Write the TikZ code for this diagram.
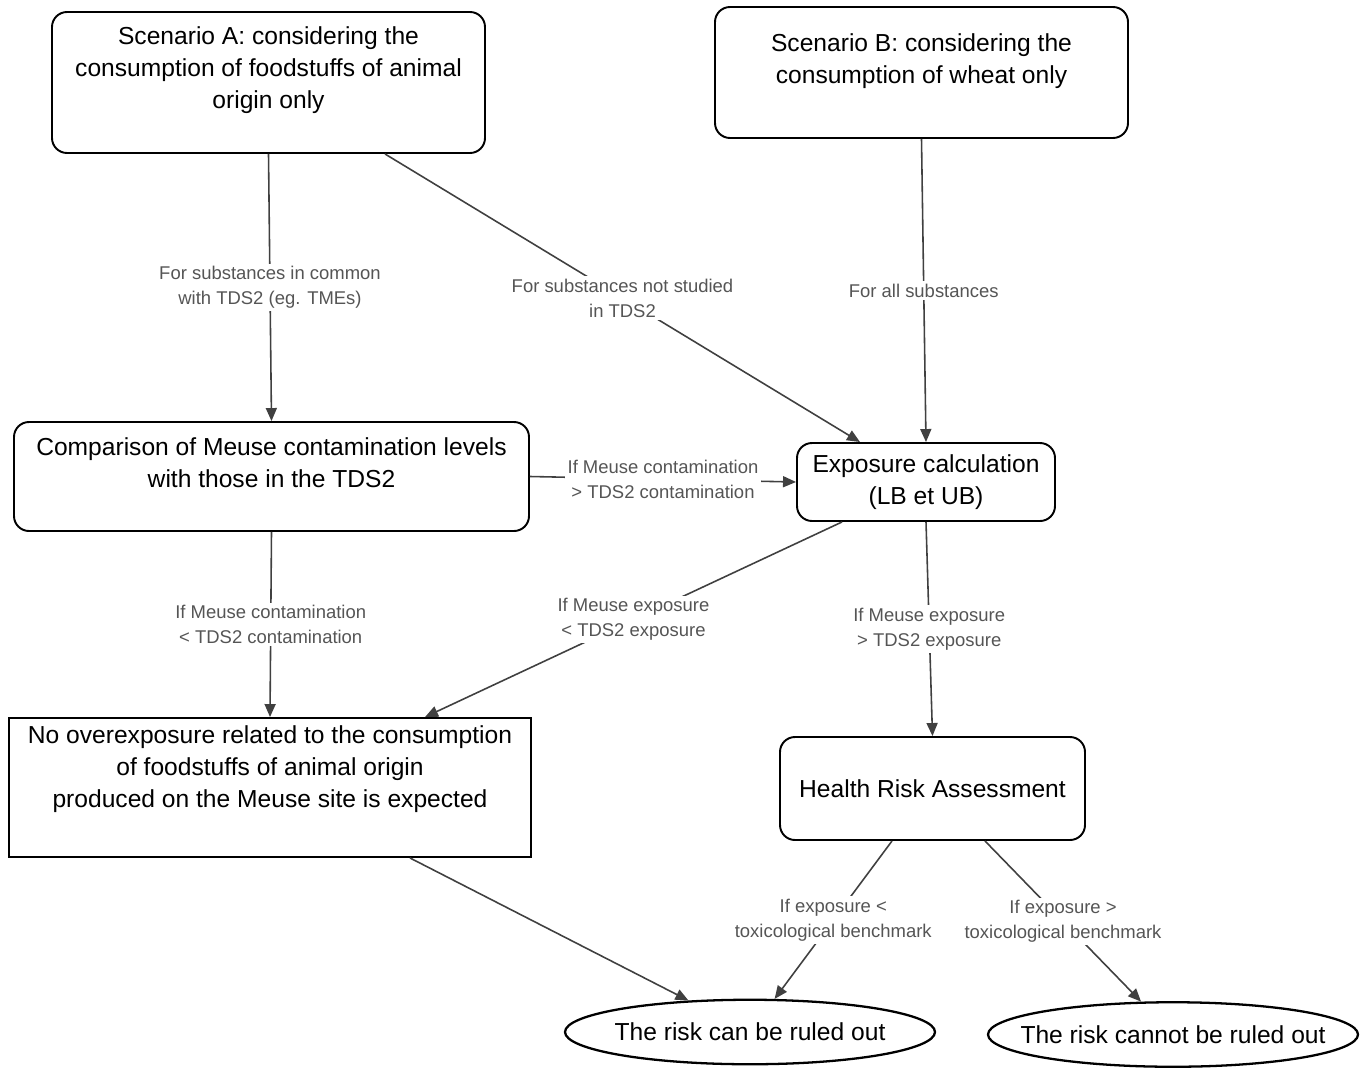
\documentclass[tikz,border=0pt]{standalone}
\usepackage{fontspec}
\setmainfont{Liberation Sans}
\usepackage{xcolor}
\usepackage{tikz}
\usetikzlibrary{arrows.meta,shapes.geometric}
\definecolor{edgegray}{RGB}{64,64,64}
\definecolor{labelgray}{RGB}{85,85,85}
\newcommand{\boxfont}{\fontsize{14}{18}\selectfont}

\begin{document}
\begin{tikzpicture}[
      rbox/.style={draw, line width=1.1pt, rounded corners=0.3cm, inner sep=0pt, align=center, font=\boxfont},
      sbox/.style={draw, line width=1.1pt, inner sep=0pt, align=center, font=\boxfont},
      outcome/.style={ellipse, draw, line width=1.3pt, inner sep=0pt, minimum width=7.4cm, minimum height=1.29cm, font=\boxfont},
      lbl/.style={fill=white, inner sep=1.5pt, align=center, text=labelgray, font=\fontsize{10.5}{14.2}\selectfont},
      arr/.style={-{Triangle[length=2.6mm, width=2.2mm]}, line width=0.9pt, color=edgegray}
    ]
      \useasboundingbox (0,0) rectangle (27.36,-21.36);
      % scenarios
      \node[rbox] (scenA) at (5.37,-1.65)
        {\parbox[c][2.82cm][t]{8.66cm}{\centering\vspace*{0.30cm}Scenario A: considering the\\ consumption of foodstuffs of animal\\ origin only}};
      \node[rbox] (scenB) at (18.43,-1.45)
        {\parbox[c][2.62cm][t]{8.26cm}{\centering\vspace*{0.54cm}Scenario B: considering the\\ consumption of wheat only}};
      % middle row
      \node[rbox] (comp) at (5.43,-9.53)
        {\parbox[c][2.18cm][t]{10.3cm}{\centering\vspace*{0.32cm}Comparison of Meuse contamination levels\\ with those in the TDS2}};
      \node[rbox, minimum width=5.16cm, minimum height=1.56cm] (expo) at (18.52,-9.64)
        {Exposure calculation\\ (LB et UB)};
      % lower row
      \node[sbox] (noover) at (5.40,-15.75)
        {\parbox[c][2.78cm][t]{10.44cm}{\centering\vspace*{0.16cm}No overexposure related to the consumption\\ of foodstuffs of animal origin\\ produced on the Meuse site is expected}};
      \node[rbox, minimum width=6.1cm, minimum height=2.06cm] (hra) at (18.65,-15.77)
        {Health Risk Assessment};
      % outcomes
      \node[outcome] (risk) at (15.0,-20.64) {\makebox[0pt]{The risk can be ruled out}};
      \node[outcome] (norisk) at (23.46,-20.69) {\makebox[0pt]{The risk cannot be ruled out}};

      \draw[arr] (scenA.south) -- node[lbl]{For substances in common\\ with TDS2 (eg. TMEs)} (comp.north);
      \draw[arr] ([xshift=2.33cm]scenA.south) -- node[lbl]{For substances not studied\\ in TDS2} ([xshift=-1.32cm]expo.north);
      \draw[arr] (scenB.south) -- node[lbl]{For all substances} (expo.north);
      \draw[arr] (comp.east) -- node[lbl]{If Meuse contamination\\ > TDS2 contamination} (expo.west);
      \draw[arr] (comp.south) -- node[lbl]{If Meuse contamination\\ < TDS2 contamination} (noover.north);
      \draw[arr] ([xshift=-1.68cm]expo.south) -- node[lbl]{If Meuse exposure\\ < TDS2 exposure} ([xshift=3.1cm]noover.north);
      \draw[arr] (expo.south) -- node[lbl]{If Meuse exposure\\ > TDS2 exposure} (hra.north);
      \draw[arr] ([xshift=2.8cm]noover.south) -- (risk);
      \draw[arr] ([xshift=-0.81cm]hra.south) -- node[lbl]{If exposure <\\ toxicological benchmark} (risk);
      \draw[arr] ([xshift=1.05cm]hra.south) -- node[lbl]{If exposure >\\ toxicological benchmark} (norisk);
    \end{tikzpicture}
\end{document}
